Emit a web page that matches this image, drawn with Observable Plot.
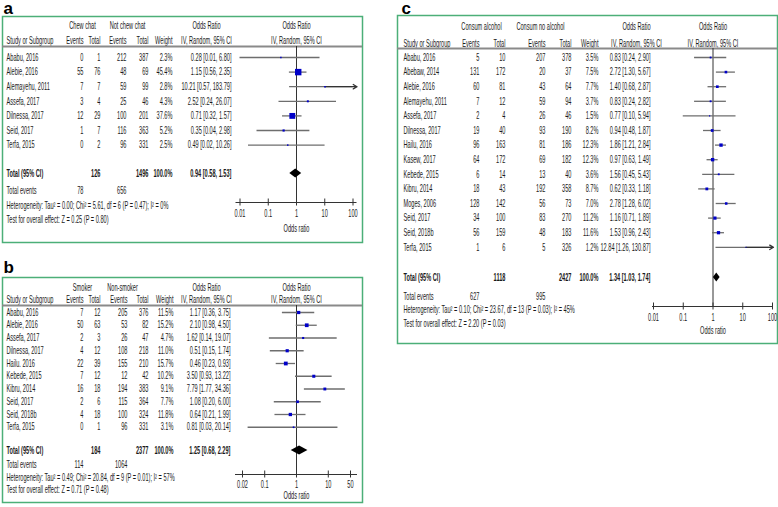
<!DOCTYPE html>
<html><head><meta charset="utf-8">
<script src="https://cdn.jsdelivr.net/npm/d3@7"></script>
<script src="https://cdn.jsdelivr.net/npm/@observablehq/plot@0.6"></script>
<style>
html,body{margin:0;padding:0;background:#fff;}
#wrap{position:relative;width:778px;height:507px;overflow:hidden;background:#fff;}
#wrap svg{position:absolute;}
</style></head><body><div id="wrap"></div>
<script>
// ---------- Panel a : chewing chat ----------
const aStudy   = ["Ababu, 2016","Alebie, 2016","Alemayehu, 2011","Assefa, 2017","Dilnessa, 2017","Seid, 2017","Terfa, 2015"];
const aEvents1 = [0,55,7,3,12,1,0];
const aTotal1  = [1,76,7,4,29,7,2];
const aEvents2 = [212,48,59,25,100,116,96];
const aTotal2  = [387,69,99,46,201,363,331];
const aWeight  = [2.3,45.4,2.8,4.3,37.6,5.2,2.5];
const aOR      = [0.28,1.15,10.21,2.52,0.71,0.35,0.49];
const aLower   = [0.01,0.56,0.57,0.24,0.32,0.04,0.02];
const aUpper   = [6.80,2.35,183.79,26.07,1.57,2.98,10.26];
const aGroups  = ["Chew chat","Not chew chat"];
const aPooled  = {total1:126,total2:1496,weight:100.0,or:0.94,lo:0.58,hi:1.53,events1:78,events2:656};
const aHet     = "Heterogeneity: Tau² = 0.00; Chi² = 5.61, df = 6 (P = 0.47); I² = 0%";
const aTest    = "Test for overall effect: Z = 0.25 (P = 0.80)";
const aTicks   = [0.01,0.1,1,10,100];

// ---------- Panel b : smoking ----------
const bStudy   = ["Ababu, 2016","Alebie, 2016","Assefa, 2017","Dilnessa, 2017","Hailu. 2016","Kebede, 2015","Kibru, 2014","Seid, 2017","Seid, 2018b","Terfa, 2015"];
const bEvents1 = [7,50,2,4,22,7,16,2,4,0];
const bTotal1  = [12,63,3,12,39,12,18,6,18,1];
const bEvents2 = [205,53,26,108,155,12,194,115,100,96];
const bTotal2  = [376,82,47,218,210,42,383,364,324,331];
const bWeight  = [11.5,15.2,4.7,11.0,15.7,10.2,9.1,7.7,11.8,3.1];
const bOR      = [1.17,2.10,1.62,0.51,0.46,3.50,7.79,1.08,0.64,0.81];
const bLower   = [0.36,0.98,0.14,0.15,0.23,0.93,1.77,0.20,0.21,0.03];
const bUpper   = [3.75,4.50,19.07,1.74,0.93,13.22,34.36,6.00,1.99,20.14];
const bGroups  = ["Smoker","Non-smoker"];
const bPooled  = {total1:184,total2:2377,weight:100.0,or:1.25,lo:0.68,hi:2.29,events1:114,events2:1064};
const bHet     = "Heterogeneity: Tau² = 0.49; Chi² = 20.84, df = 9 (P = 0.01); I² = 57%";
const bTest    = "Test for overall effect: Z = 0.71 (P = 0.48)";
const bTicks   = [0.02,0.1,1,10,50];

// ---------- Panel c : alcohol ----------
const cStudy   = ["Ababu, 2016","Abebaw, 2014","Alebie, 2016","Alemayehu, 2011","Assefa, 2017","Dilnessa, 2017","Hailu, 2016","Kasew, 2017","Kebede, 2015","Kibru, 2014","Moges, 2006","Seid, 2017","Seid, 2018b","Terfa, 2015"];
const cEvents1 = [5,131,60,7,2,19,96,64,6,18,128,34,56,1];
const cTotal1  = [10,172,81,12,4,40,163,172,14,43,142,100,159,6];
const cEvents2 = [207,20,43,59,26,93,81,69,13,192,56,83,48,5];
const cTotal2  = [378,37,64,94,46,190,186,182,40,358,73,270,183,326];
const cWeight  = [3.5,7.5,7.7,3.7,1.5,8.2,12.3,12.3,3.6,8.7,7.0,11.2,11.6,1.2];
const cOR      = [0.83,2.72,1.40,0.83,0.77,0.94,1.86,0.97,1.56,0.62,2.78,1.16,1.53,12.84];
const cLower   = [0.24,1.30,0.68,0.24,0.10,0.48,1.21,0.63,0.45,0.33,1.28,0.71,0.96,1.26];
const cUpper   = [2.90,5.67,2.87,2.82,5.94,1.87,2.84,1.49,5.43,1.18,6.02,1.89,2.43,130.87];
const cGroups  = ["Consum alcohol","Consum no alcohol"];
const cPooled  = {total1:1118,total2:2427,weight:100.0,or:1.34,lo:1.03,hi:1.74,events1:627,events2:995};
const cHet     = "Heterogeneity: Tau² = 0.10; Chi² = 23.67, df = 13 (P = 0.03); I² = 45%";
const cTest    = "Test for overall effect: Z = 2.20 (P = 0.03)";
const cTicks   = [0.01,0.1,1,10,100];

// ---------- layout (global pixel positions) ----------
const layoutA = {ox:0, oy:0, w:366, h:250, box:[2,16,362,242], label:["a",3,8],
  h1:25, h2:40, sep:46, row0:57, step:14.6, total:173, events:190, het:205, test:219,
  axis:202, tickLbl:213, oddsLbl:228,
  cols:{study:6, e1:83, t1:100, e2:126, t2:148, w:172, ci:231}, grp1:82, grp2:127, ciHdr:206,
  x:[239.5,352.5], ext:4};
const layoutB = {ox:0, oy:252, w:366, h:255, box:[2,277,362,502], label:["b",3,267],
  h1:287, h2:299, sep:305, row0:312, step:12.75, total:450, events:464, het:477, test:489,
  axis:474, tickLbl:484, oddsLbl:495,
  cols:{study:6, e1:83, t1:100, e2:127, t2:148, w:173, ci:230}, grp1:82, grp2:122, ciHdr:206,
  x:[242,350], ext:7};
const layoutC = {ox:385, oy:0, w:393, h:350, box:[397,15,777,343], label:["c",401,8],
  h1:26, h2:43, sep:48, row0:57, step:14.6, total:277, events:296, het:309, test:323,
  axis:306, tickLbl:317, oddsLbl:330,
  cols:{study:403, e1:479, t1:505, e2:545, t2:571, w:598, ci:650}, grp1:481, grp2:540, ciHdr:636,
  x:[653,772], ext:1};

const FONT = "'Liberation Sans Narrow','Arial Narrow','Liberation Sans',Arial,sans-serif";
const FS = 10;
const INK = "#1a1a1a";
const GREEN = "#4caf78";
const ciStr = (o,l,h) => `${o.toFixed(2)} [${l.toFixed(2)}, ${h.toFixed(2)}]`;
const fmtTick = d => String(d);

function forestPanel(L, d) {
  const rows = d.study.map((s,i) => ({i, study:s, e1:d.e1[i], t1:d.t1[i], e2:d.e2[i], t2:d.t2[i],
    w:d.w[i], or:d.or[i], lo:d.lo[i], hi:d.hi[i]}));
  const R = g => (g - L.row0) / L.step;      // global y -> row units
  const X = g => g - L.ox;                   // global x -> local x
  const dom = [d.ticks[0], d.ticks[d.ticks.length-1]];
  const P = d.pooled;
  const txt = (y, str, gx, anchor, extra = {}) =>
    Plot.text([str], {y: () => R(y), text: s => s, frameAnchor: "left", dx: X(gx), textAnchor: anchor,
      fontSize: FS, fill: INK, fontFamily: FONT, ...extra});
  const col = (key, gx, fmt = v => v) =>
    Plot.text(rows, {y: "i", text: r => fmt(r[key]), frameAnchor: "left", dx: X(gx), textAnchor: "end",
      fontSize: FS, fill: INK, fontFamily: FONT});
  const C = L.cols;
  const h = 4.6 / L.step;
  const T = R(L.total);
  const diamond = [{x: P.lo, y1: T, y2: T}, {x: P.or, y1: T - h, y2: T + h}, {x: P.hi, y1: T, y2: T}];
  const a = R(L.axis), tk = 3.5 / L.step;
  return Plot.plot({
    width: L.w, height: L.h, marginTop: 0, marginRight: 0, marginBottom: 0, marginLeft: 0,
    style: {background: "transparent", overflow: "visible"},
    x: {type: "log", domain: dom, range: [X(L.x[0]), X(L.x[1])], clamp: true, axis: null},
    y: {type: "linear", domain: [0, 1], range: [L.row0 - L.oy, L.row0 - L.oy + L.step], axis: null},
    r: {type: "sqrt", domain: [0, 100], range: [0, 5.4]},
    marks: [
      Plot.frame({stroke: GREEN, strokeWidth: 1.5, insetLeft: X(L.box[0]), insetTop: L.box[1] - L.oy,
        insetRight: L.w - X(L.box[2]), insetBottom: L.h - (L.box[3] - L.oy)}),
      Plot.text([L.label[0]], {y: () => R(L.label[2]), text: s => s, frameAnchor: "left", dx: X(L.label[1]),
        textAnchor: "start", fontSize: 17, fontWeight: "bold", fill: "#000", fontFamily: "'Liberation Sans',Arial,sans-serif"}),
      // header
      txt(L.h1, d.groups[0], L.grp1, "middle"),
      txt(L.h1, d.groups[1], L.grp2, "middle"),
      txt(L.h1, "Odds Ratio", L.ciHdr, "middle"),
      Plot.text(["Odds Ratio"], {x: 1, y: () => R(L.h1), text: s => s, fontSize: FS, fill: INK, fontFamily: FONT}),
      txt(L.h2, "Study or Subgroup", C.study, "start"),
      txt(L.h2, "Events", C.e1, "end"),
      txt(L.h2, "Total", C.t1, "end"),
      txt(L.h2, "Events", C.e2, "end"),
      txt(L.h2, "Total", C.t2, "end"),
      txt(L.h2, "Weight", C.w, "end"),
      txt(L.h2, "IV, Random, 95% CI", L.ciHdr, "middle"),
      Plot.text(["IV, Random, 95% CI"], {x: 1, y: () => R(L.h2), text: s => s, fontSize: FS, fill: INK, fontFamily: FONT}),
      Plot.ruleY([R(L.sep)], {y: v => v, stroke: "#8a8a8a", strokeWidth: 2,
        insetLeft: X(L.box[0]), insetRight: L.w - X(L.box[2])}),
      // study rows
      Plot.text(rows, {y: "i", text: "study", frameAnchor: "left", dx: X(C.study), textAnchor: "start",
        fontSize: FS, fill: INK, fontFamily: FONT}),
      col("e1", C.e1), col("t1", C.t1), col("e2", C.e2), col("t2", C.t2),
      col("w", C.w, v => v.toFixed(1) + "%"),
      Plot.text(rows, {y: "i", text: r => ciStr(r.or, r.lo, r.hi), frameAnchor: "left", dx: X(C.ci),
        textAnchor: "end", fontSize: FS, fill: INK, fontFamily: FONT}),
      // totals
      txt(L.total, "Total (95% CI)", C.study, "start", {fontWeight: "bold"}),
      txt(L.total, String(P.total1), C.t1, "end", {fontWeight: "bold"}),
      txt(L.total, String(P.total2), C.t2, "end", {fontWeight: "bold"}),
      txt(L.total, P.weight.toFixed(1) + "%", C.w, "end", {fontWeight: "bold"}),
      txt(L.total, ciStr(P.or, P.lo, P.hi), C.ci, "end", {fontWeight: "bold"}),
      txt(L.events, "Total events", C.study, "start"),
      txt(L.events, String(P.events1), C.e1, "end"),
      txt(L.events, String(P.events2), C.e2, "end"),
      txt(L.het, d.het, C.study, "start"),
      txt(L.test, d.test, C.study, "start"),
      // forest graph
      Plot.ruleX([1], {x: v => v, y1: () => R(L.sep), y2: () => a, stroke: "#333", strokeWidth: 1}),
      Plot.ruleY(rows, {y: "i", x1: "lo", x2: "hi", stroke: "#6e6e6e", strokeWidth: 1.3}),
      Plot.arrow(rows.filter(r => r.hi > dom[1]), {x1: "or", x2: "hi", y1: "i", y2: "i", stroke: "#333",
        strokeWidth: 1.3, headLength: 5, insetEnd: -L.ext}),
      Plot.dot(rows, {x: "or", y: "i", r: "w", symbol: "square", fill: "#0000c8", stroke: null}),
      Plot.areaY(diamond, {x: "x", y1: "y1", y2: "y2", fill: "#000", curve: "linear"}),
      // axis
      Plot.ruleY([a], {y: v => v, x1: dom[0], x2: dom[1], insetLeft: -L.ext, insetRight: -L.ext, stroke: "#333"}),
      Plot.ruleX(d.ticks, {x: v => v, y1: () => a - tk, y2: () => a + tk, stroke: "#333"}),
      Plot.text(d.ticks, {x: v => v, y: () => R(L.tickLbl), text: fmtTick, fontSize: FS, fill: INK, fontFamily: FONT}),
      Plot.text(["Odds ratio"], {x: 1, y: () => R(L.oddsLbl), text: s => s, fontSize: FS, fill: INK, fontFamily: FONT})
    ]
  });
}

const panels = [
  [layoutA, {study:aStudy, e1:aEvents1, t1:aTotal1, e2:aEvents2, t2:aTotal2, w:aWeight, or:aOR, lo:aLower, hi:aUpper,
    groups:aGroups, pooled:aPooled, het:aHet, test:aTest, ticks:aTicks}],
  [layoutB, {study:bStudy, e1:bEvents1, t1:bTotal1, e2:bEvents2, t2:bTotal2, w:bWeight, or:bOR, lo:bLower, hi:bUpper,
    groups:bGroups, pooled:bPooled, het:bHet, test:bTest, ticks:bTicks}],
  [layoutC, {study:cStudy, e1:cEvents1, t1:cTotal1, e2:cEvents2, t2:cTotal2, w:cWeight, or:cOR, lo:cLower, hi:cUpper,
    groups:cGroups, pooled:cPooled, het:cHet, test:cTest, ticks:cTicks}]
];

const wrap = document.getElementById("wrap");
for (const [L, d] of panels) {
  const svg = forestPanel(L, d);
  svg.style.left = L.ox + "px";
  svg.style.top = L.oy + "px";
  wrap.appendChild(svg);
}

// condense the table typography (the reference uses a very narrow face)
const texts = [...wrap.querySelectorAll("text")];
const ref = texts.find(t => t.textContent === aHet);
const squeeze = ref ? 162 / ref.getComputedTextLength() : 0.7;
for (const t of texts) {
  if (/^[abc]$/.test(t.textContent)) continue;
  let tr = t.getAttribute("transform");
  if (!tr) {
    const x = +(t.getAttribute("x") || 0), y = +(t.getAttribute("y") || 0);
    t.removeAttribute("x"); t.removeAttribute("y");
    tr = `translate(${x},${y})`;
  }
  t.setAttribute("transform", `${tr} scale(${squeeze},1)`);
}
</script>
</body></html>
